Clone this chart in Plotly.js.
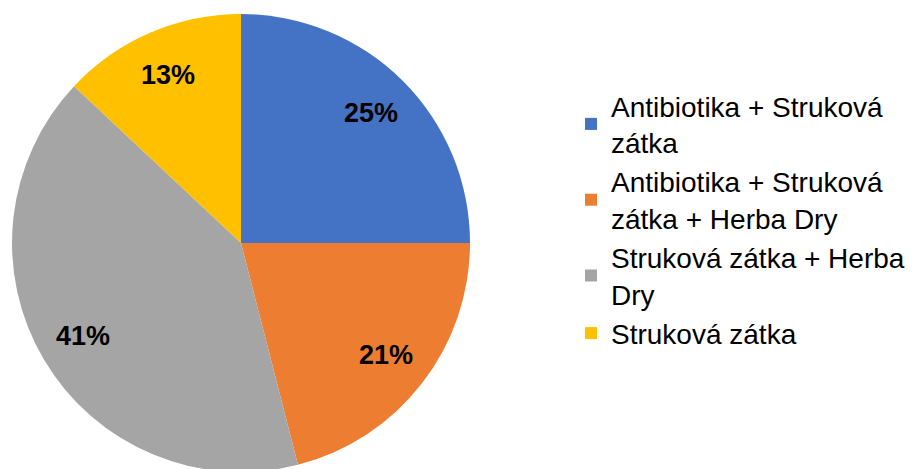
<!DOCTYPE html>
<html>
<head>
<meta charset="utf-8">
<script src="https://cdn.plot.ly/plotly-3.0.1.min.js"></script>
<style>
html,body{margin:0;padding:0;overflow:hidden;background:#fff;}
#chart{width:914px;height:475px;}
</style>
</head>
<body>
<div id="chart"></div>
<script>
var labels = ["Antibiotika + Struková<br>zátka", "Antibiotika + Struková<br>zátka + Herba Dry", "Struková zátka + Herba<br>Dry", "Struková zátka"];
var values = [25, 21, 41, 13];
var colors = ["#4472C4", "#ED7D31", "#A5A5A5", "#FFC000"];

var W = 914, H = 475;
var dom = {x: [12 / W, 470 / W], y: [3 / H, 461 / H]};
var R = Math.min((dom.x[1] - dom.x[0]) * W, (dom.y[1] - dom.y[0]) * H) / 2;
var cx = (dom.x[0] + dom.x[1]) / 2, cy = (dom.y[0] + dom.y[1]) / 2;

var trace = {
  type: "pie",
  labels: labels,
  values: values,
  sort: false,
  direction: "clockwise",
  rotation: 0,
  marker: {colors: colors, line: {color: "#ffffff", width: 0}},
  textinfo: "none",
  hoverinfo: "label+percent",
  domain: dom
};

// percentage labels placed inside each slice (Excel-style, ~80% of radius)
var total = values.reduce(function (a, b) { return a + b; }, 0);
var annotations = [];
var cum = 0;
values.forEach(function (v) {
  var mid = (cum + v / 2) / total * 2 * Math.PI;
  cum += v;
  annotations.push({
    xref: "paper", yref: "paper",
    x: cx + 0.8 * R * Math.sin(mid) / W,
    y: cy + 0.8 * R * Math.cos(mid) / H,
    xanchor: "center", yanchor: "middle",
    text: "<b>" + Math.round(v / total * 100) + "%</b>",
    showarrow: false,
    font: {family: "Liberation Sans, Arial, sans-serif", size: 27, color: "#000000"}
  });
});

var layout = {
  width: W,
  height: H,
  margin: {l: 0, r: 0, t: 0, b: 0, autoexpand: false},
  paper_bgcolor: "#ffffff",
  showlegend: true,
  annotations: annotations,
  legend: {
    x: 571 / W, xanchor: "left",
    y: 1 - 81 / H, yanchor: "top",
    font: {family: "Liberation Sans, Arial, sans-serif", size: 28, color: "#000000"},
    bgcolor: "rgba(0,0,0,0)",
    traceorder: "normal"
  }
};

Plotly.newPlot("chart", [trace], layout, {displayModeBar: false, staticPlot: true});
</script>
</body>
</html>
